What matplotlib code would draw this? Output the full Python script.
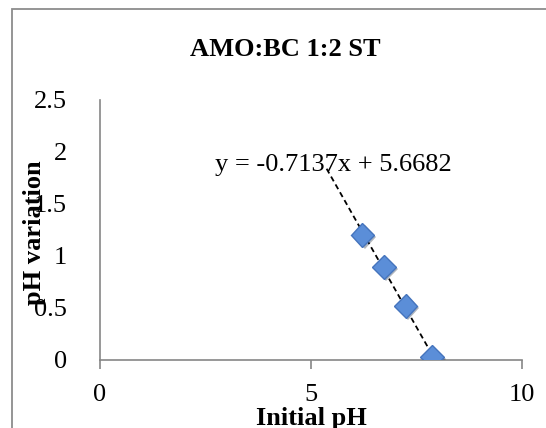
import matplotlib.pyplot as plt
import matplotlib.patches as patches
import matplotlib.patheffects as pe
import numpy as np

# data
initial_ph = [6.22, 6.73, 7.24, 7.87]
ph_variation = [1.20, 0.895, 0.518, 0.032]
slope = -0.7137
intercept = 5.6682
trend_x = [5.37, 7.87]
x_ticks = [0, 5, 10]
y_ticks = [0, 0.5, 1, 1.5, 2, 2.5]
y_tick_labels = ["0", "0.5", "1", "1.5", "2", "2.5"]


def plot():
    plt.rcParams['font.family'] = ['Liberation Serif', 'DejaVu Serif']
    fig = plt.figure(figsize=(5.46, 4.28), dpi=100)
    ax = fig.add_axes([100 / 546, 1 - 360 / 428, 422 / 546, 260.5 / 428])

    # chart frame (only left/top edges visible)
    fig.patches.append(patches.Rectangle((12 / 546, -0.1), 2, 1 - 9 / 428 + 0.1,
                                         transform=fig.transFigure, fill=False,
                                         edgecolor="#8c8c8c", linewidth=1.3))

    tx = np.array(trend_x)
    ax.plot(tx, slope * tx + intercept, color="black", linestyle=(0, (3, 2)),
            linewidth=1.3, zorder=2)
    ax.plot(initial_ph, ph_variation, linestyle="none", marker="D", markersize=12,
            markerfacecolor="#5b8ed8", markeredgecolor="#4574bd", markeredgewidth=1,
            zorder=3,
            path_effects=[pe.SimplePatchShadow(offset=(1.5, -1.5), alpha=0.35), pe.Normal()])

    ax.text(2.73, 1.81, "y = %.4fx + %.4f" % (slope, intercept), fontsize=19,
            ha="left", va="baseline")

    ax.set_xlim(0, 10)
    ax.set_ylim(0, 2.5)
    ax.set_xticks(x_ticks)
    ax.set_yticks(y_ticks)
    ax.set_yticklabels(y_tick_labels)
    for s in ["top", "right"]:
        ax.spines[s].set_visible(False)
    for s in ["left", "bottom"]:
        ax.spines[s].set_color("#868686")
        ax.spines[s].set_linewidth(1.2)
    ax.tick_params(axis="x", direction="out", length=6.3, width=1.2, color="#868686",
                   labelsize=19, pad=11)
    ax.tick_params(axis="y", length=0, labelsize=19, pad=24)

    fig.text(285 / 546, 1 - 56 / 428, "AMO:BC 1:2 ST", fontsize=19, fontweight="bold",
             ha="center", va="baseline")
    fig.text(311 / 546, 1 - 425 / 428, "Initial pH", fontsize=19, fontweight="bold",
             ha="center", va="baseline")
    fig.text(34 / 546, 1 - 233 / 428, "pH variation", fontsize=19, fontweight="bold",
             ha="center", va="center", rotation=90)

    fig.savefig("out.png", dpi=100)


if __name__ == '__main__':
    plot()
